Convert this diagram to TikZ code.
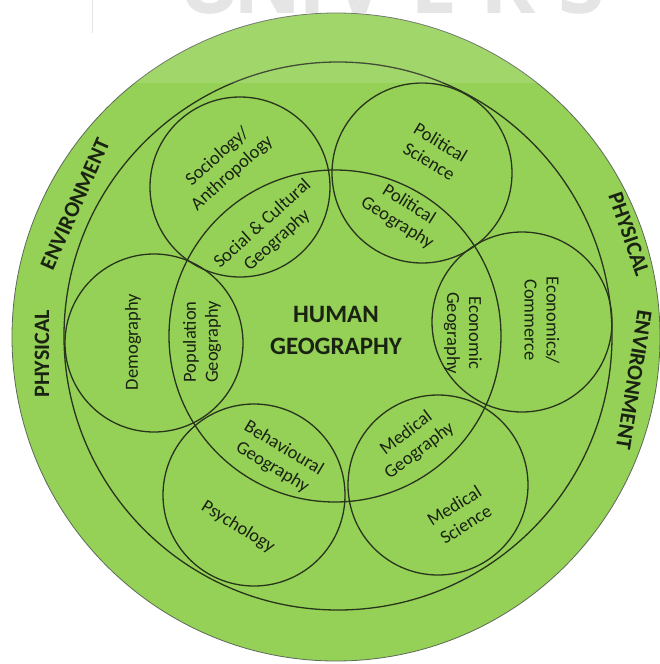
\documentclass[tikz,border=0pt]{standalone}
\usepackage{fontspec}
\setmainfont{Carlito}
\newfontfamily\markfont{Open Sans}
\definecolor{leaf}{RGB}{148,209,86}
\definecolor{linec}{RGB}{40,52,28}
\definecolor{textc}{RGB}{26,34,18}
\definecolor{rimc}{RGB}{95,105,90}
\definecolor{wmark}{RGB}{226,226,226}
\begin{document}
\begin{tikzpicture}[x=1pt,y=-1pt,
  ring/.style={circle, draw=linec, line width=1.3pt, minimum size=#1,
               inner sep=0pt, outer sep=0pt},
  lab/.style={font=\fontsize{18.5}{22}\selectfont, text=textc, align=center,
              inner sep=0pt},
  rimlab/.style={font=\fontsize{22}{26}\selectfont\bfseries, text=textc,
                 inner sep=0pt},
  wmletter/.style={font=\markfont\fontsize{84}{84}\selectfont\bfseries,
               text=wmark, anchor=base, inner sep=0pt}
  ]
% page
\useasboundingbox[fill=white] (0,0) rectangle (659,664);

% faint lettering behind the disc
\draw[wmark, line width=1pt] (92,0) -- (92,33);
\node[wmletter] (w1) at (210,13) {U};
\node[wmletter] (w2) at (268,13) {N};
\node[wmletter] (w3) at (312,13) {I};
\node[wmletter] (w4) at (360,13) {V};
\node[wmletter] (w5) at (434,13) {E};
\node[wmletter] (w6) at (508,13) {R};
\node[wmletter] (w7) at (582,13) {S};

% physical environment disc and the ring inside it
\node[circle, fill=leaf, draw=rimc, line width=0.8pt, minimum size=648pt,
      inner sep=0pt] (world) at (336,337) {};
\node[ring=548pt] (inner) at (338,336) {};

% human geography core
\node[ring=332pt] (core) at (335,336) {};

% neighbouring disciplines
\node[ring=180pt] (soc) at (240,187) {};
\node[ring=180pt] (pol) at (422,173) {};
\node[ring=180pt] (eco) at (522,322) {};
\node[ring=180pt] (med) at (438,485) {};
\node[ring=182pt] (psy) at (254,495) {};
\node[ring=178pt] (dem) at (154,343) {};

% labels
\node[lab, rotate=42]  (tsoc) at (225,165) {Sociology/\\Anthropology};
\node[lab, rotate=-31] (tpol) at (435,152) {Political\\Science};
\node[lab, rotate=42]  (tsc)  at (270,232) {Social \& Cultural\\Geography};
\node[lab, rotate=-32] (tpg)  at (403,214) {Political\\Geography};
\node[lab, rotate=90]  (tdem) at (133,342) {Demography};
\node[lab, rotate=90]  (tpop) at (202,342) {Population\\Geography};
\node[lab, rotate=-90] (teg)  at (463,333) {Economic\\Geography};
\node[lab, rotate=-90] (teco) at (542,320) {Economics/\\Commerce};
\node[lab, rotate=-31] (tbeh) at (278,458) {Behavioural\\Geography};
\node[lab, rotate=37]  (tmg)  at (413,442) {Medical\\Geography};
\node[lab, rotate=-32] (tpsy) at (238,527) {Psychology};
\node[lab, rotate=32]  (tms)  at (460,515) {Medical\\Science};

\node[font=\fontsize{25}{32}\selectfont\bfseries, text=textc, align=center,
      inner sep=0pt] (thg) at (336,330) {HUMAN\\GEOGRAPHY};

\node[rimlab, rotate=90]  (pl) at (42,354)  {PHYSICAL};
\node[rimlab, rotate=66]  (el) at (75,204)  {ENVIRONMENT};
\node[rimlab, rotate=-71] (pr) at (629,234) {PHYSICAL};
\node[rimlab, rotate=-99] (er) at (634,380) {ENVIRONMENT};

% pale wash across the top strip
\fill[white, opacity=0.12] (0,0) rectangle (659,83);
\end{tikzpicture}
\end{document}
